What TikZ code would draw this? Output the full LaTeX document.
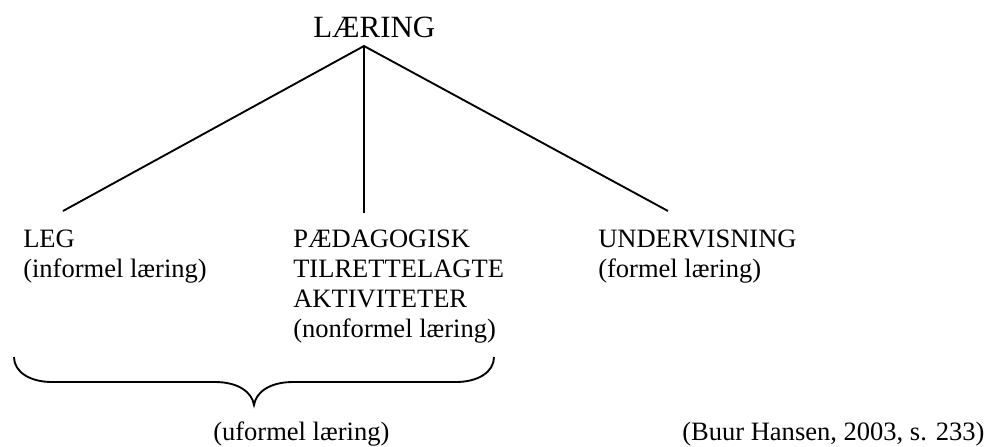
\documentclass[tikz,border=0pt]{standalone}
\usepackage{fontspec}
\setmainfont{Liberation Serif}
\begin{document}
\begin{tikzpicture}[x=0.75pt,y=-0.75pt,
  txt/.style={anchor=base west,inner sep=0pt,font=\fontsize{19.9pt}{22pt}\selectfont},
  big/.style={anchor=base west,inner sep=0pt,font=\fontsize{23.2pt}{26pt}\selectfont},
  ln/.style={line width=1.4pt,line cap=butt}]
\useasboundingbox (0,0) rectangle (999,446);
\node[big] (title) at (313,37) {LÆRING};
\coordinate (apex) at (364,46);
\coordinate (endL) at (63,211);
\coordinate (endM) at (364,213);
\coordinate (endR) at (668,211);
\draw[ln] (endL) -- (apex) -- (endR);
\draw[ln] (apex) -- (endM);
\node[txt] (leg) at (23,247) {LEG};
\node[txt] (inf) at (23,277) {(informel læring)};
\node[txt] (paed) at (293,247) {PÆDAGOGISK};
\node[txt] (tilr) at (293,277) {TILRETTELAGTE};
\node[txt] (akt) at (293,307) {AKTIVITETER};
\node[txt] (nonf) at (293,337) {(nonformel læring)};
\node[txt] (und) at (598,247) {UNDERVISNING};
\node[txt] (form) at (598,277) {(formel læring)};
\draw[ln] (14,357) .. controls (14,372) and (30,382) .. (52,382) -- (215,382)
  .. controls (238,382) and (252,392) .. (254,405)
  .. controls (256,392) and (270,382) .. (293,382) -- (456,382)
  .. controls (478,382) and (494,372) .. (494,357);
\node[txt] (ufor) at (213,440) {(uformel læring)};
\node[txt] (cite) at (682,440) {(Buur Hansen, 2003, s. 233)};
\end{tikzpicture}
\end{document}
